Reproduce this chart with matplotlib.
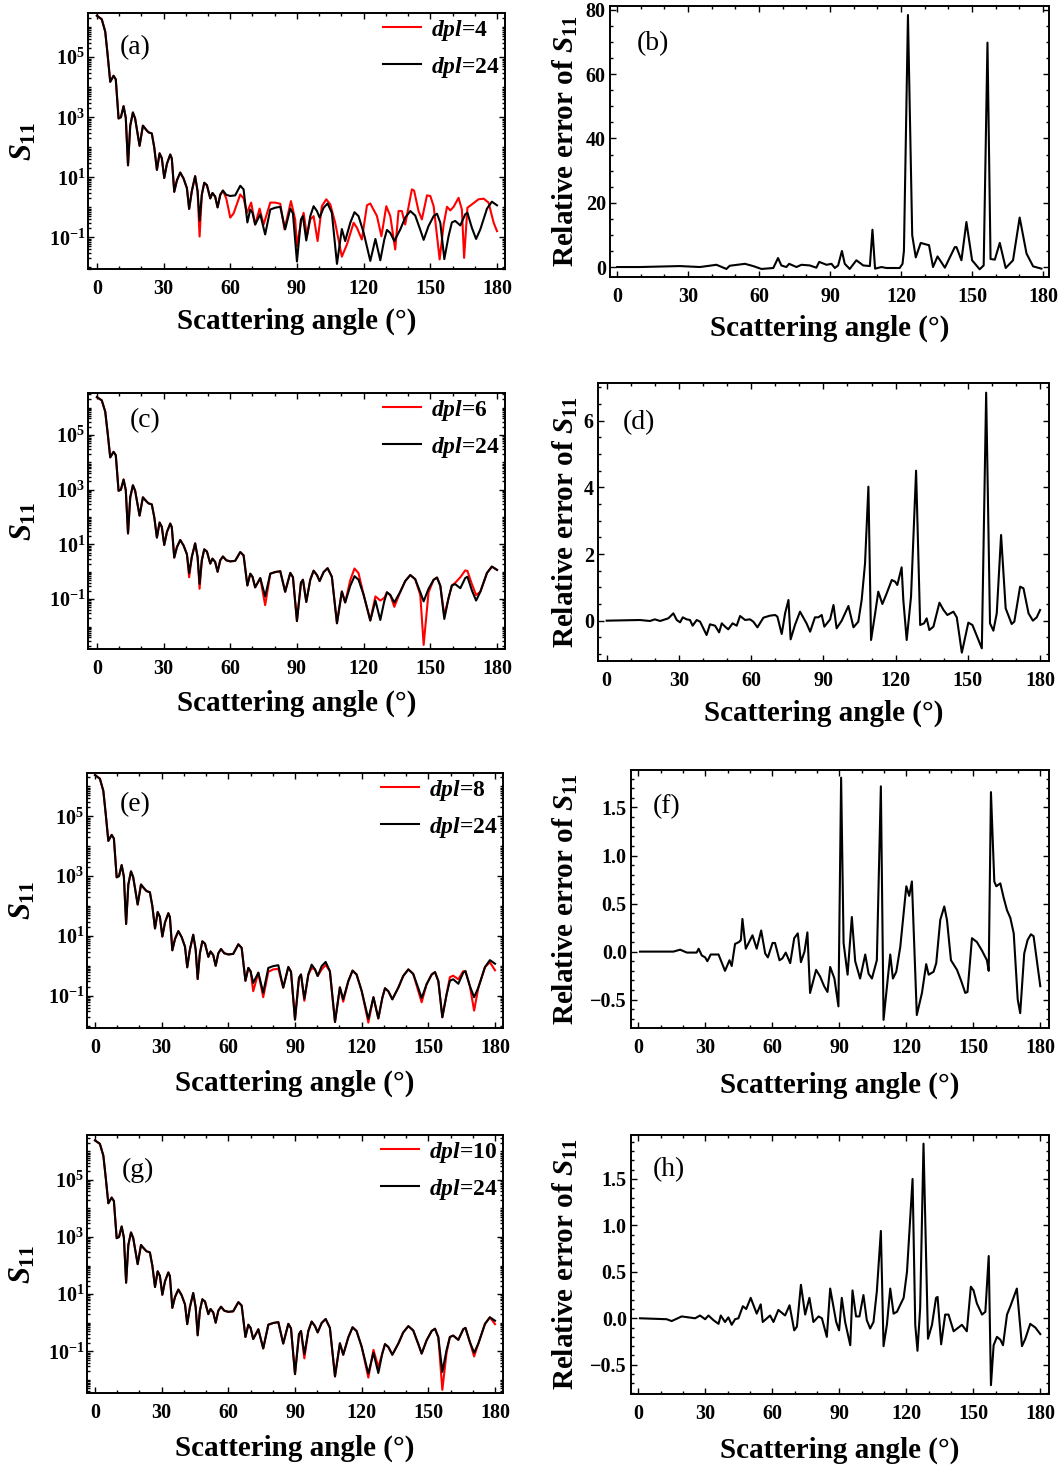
import numpy as np
import matplotlib
matplotlib.use("Agg")
import matplotlib.pyplot as plt
from matplotlib.ticker import MultipleLocator, LogLocator, NullFormatter

plt.rcParams['font.family'] = ['Liberation Serif', 'DejaVu Serif']
plt.rcParams['font.weight'] = 'bold'
plt.rcParams['axes.labelweight'] = 'bold'
plt.rcParams['mathtext.fontset'] = 'custom'
plt.rcParams['mathtext.rm'] = 'Liberation Serif:bold'
plt.rcParams['mathtext.it'] = 'Liberation Serif:italic:bold'
plt.rcParams['mathtext.bf'] = 'Liberation Serif:bold'

W, H = 1062, 1465

# S11 for dpl=24 (log10 values)
ANGLE_24 = [0.0, 2.2, 3.75, 4.8, 6.0, 7.5, 8.5, 9.75, 10.8, 12.0, 13.0, 14.0, 15.0, 16.2,
            17.2, 19.2, 20.7, 22.2, 23.2, 24.7, 25.8, 27.0, 28.2, 29.2, 30.3, 31.5, 33.0,
            33.7, 34.8, 36.0, 37.5, 39.0, 40.5, 41.5, 42.7, 44.2, 45.3, 46.2, 47.2, 48.3,
            49.5, 51.0, 52.0, 53.2, 54.3, 55.5, 56.7, 58.2, 60.0, 62.2, 64.5, 66.0, 67.7,
            69.0, 70.0, 71.2, 73.5, 75.7, 78.0, 80.2, 82.5, 84.7, 87.0, 88.2, 90.0, 91.8,
            92.7, 94.2, 96.0, 97.5, 99.0, 100.2, 102.0, 103.8, 105.7, 108.0, 110.2, 111.7,
            114.0, 115.9, 117.7, 120.0, 123.0, 125.3, 127.5, 129.3, 130.5, 132.0, 133.8,
            136.5, 138.7, 141.0, 143.2, 145.5, 147.0, 149.2, 151.5, 153.0, 154.5, 156.3,
            158.2, 159.7, 161.2, 163.5, 165.7, 166.7, 168.7, 170.6, 172.5, 175.5, 177.7, 180.0]
LOG_S11_24 = [6.38, 6.26, 5.85, 5.1, 4.18, 4.38, 4.26, 2.96, 3.0, 3.37, 2.98, 1.4, 2.72, 3.16,
              2.96, 2.05, 2.72, 2.58, 2.5, 2.46, 2.0, 1.25, 1.8, 1.64, 0.98, 1.45, 1.76,
              1.63, 0.52, 0.9, 1.16, 0.96, 0.64, -0.05, 0.54, 1.04, 0.54, -0.44, 0.42, 0.82,
              0.74, 0.3, 0.48, 0.36, 0.0, 0.42, 0.56, 0.42, 0.38, 0.4, 0.72, 0.6, -0.5,
              -0.07, -0.18, -0.57, -0.23, -0.9, -0.07, -0.01, 0.02, -0.73, -0.04, -0.2, -1.8, -0.4,
              -0.29, -1.1, -0.29, 0.04, -0.12, -0.34, -0.01, 0.13, -0.18, -1.88, -0.72, -1.12,
              -0.51, -0.16, -0.29, -0.84, -1.78, -1.05, -1.76, -1.07, -0.75, -0.85, -1.12,
              -0.73, -0.34, -0.12, -0.27, -0.75, -1.08, -0.62, -0.29, -0.21, -0.51, -1.72,
              -0.96, -0.5, -0.45, -0.6, -0.23, -0.18, -0.68, -1.05, -0.73, -0.04, 0.19, 0.07]

# dpl=6, 8, 10 sit on the same angles as dpl=24
LOG_S11_6 = [6.38, 6.26, 5.85, 5.1, 4.18, 4.38, 4.26, 2.96, 3.0, 3.37, 2.98, 1.4, 2.72, 3.16,
             2.96, 2.05, 2.72, 2.58, 2.5, 2.46, 2.0, 1.25, 1.8, 1.64, 0.98, 1.45, 1.76,
             1.63, 0.52, 0.9, 1.16, 0.96, 0.64, -0.2, 0.54, 1.04, 0.54, -0.62, 0.42, 0.82,
             0.74, 0.3, 0.48, 0.36, 0.0, 0.42, 0.56, 0.42, 0.38, 0.4, 0.72, 0.6, -0.5,
             -0.07, -0.18, -0.57, -0.23, -1.22, -0.07, -0.01, 0.02, -0.73, -0.04, -0.2, -1.8, -0.4,
             -0.29, -1.1, -0.29, 0.04, -0.12, -0.34, -0.01, 0.13, -0.18, -1.88, -0.72, -1.12,
             -0.3, 0.12, -0.05, -0.84, -1.78, -0.9, -1.05, -0.95, -0.75, -0.85, -1.28,
             -0.73, -0.34, -0.12, -0.27, -0.85, -2.67, -0.75, -0.29, -0.21, -0.51, -1.6,
             -0.96, -0.5, -0.4, -0.2, 0.05, 0.03, -0.45, -0.85, -0.73, -0.04, 0.19, 0.07]
LOG_S11_8 = [6.38, 6.26, 5.85, 5.1, 4.18, 4.38, 4.26, 2.96, 3.0, 3.37, 2.98, 1.4, 2.72, 3.16,
             2.96, 2.05, 2.72, 2.58, 2.5, 2.46, 2.0, 1.25, 1.8, 1.64, 0.98, 1.45, 1.76,
             1.63, 0.52, 0.9, 1.16, 0.96, 0.64, -0.05, 0.54, 1.04, 0.54, -0.44, 0.42, 0.82,
             0.74, 0.3, 0.48, 0.36, 0.0, 0.42, 0.56, 0.42, 0.38, 0.4, 0.72, 0.6, -0.5,
             -0.07, -0.18, -0.85, -0.23, -1.05, -0.2, -0.12, -0.1, -0.73, -0.04, -0.2, -1.8, -0.4,
             -0.29, -1.17, -0.29, -0.08, -0.12, -0.34, -0.12, 0.03, -0.18, -1.88, -0.72, -1.2,
             -0.51, -0.16, -0.29, -0.84, -1.9, -1.05, -1.76, -1.07, -0.75, -0.85, -1.12,
             -0.73, -0.34, -0.12, -0.27, -0.85, -1.22, -0.62, -0.29, -0.21, -0.51, -1.72,
             -0.96, -0.38, -0.33, -0.45, -0.18, -0.18, -0.68, -1.5, -0.73, -0.04, 0.12, -0.15]
LOG_S11_10 = [6.38, 6.26, 5.85, 5.1, 4.18, 4.38, 4.26, 2.96, 3.0, 3.37, 2.98, 1.4, 2.72, 3.16,
              2.96, 2.05, 2.72, 2.58, 2.5, 2.46, 2.0, 1.25, 1.8, 1.64, 0.98, 1.45, 1.76,
              1.63, 0.52, 0.9, 1.16, 0.96, 0.64, -0.05, 0.54, 1.04, 0.54, -0.44, 0.42, 0.82,
              0.74, 0.3, 0.48, 0.36, 0.0, 0.42, 0.56, 0.42, 0.38, 0.4, 0.72, 0.6, -0.5,
              -0.07, -0.18, -0.57, -0.23, -0.9, -0.07, -0.01, 0.02, -0.73, -0.04, -0.2, -1.8, -0.4,
              -0.29, -1.25, -0.29, 0.04, -0.12, -0.34, -0.01, 0.13, -0.18, -1.88, -0.72, -1.12,
              -0.51, -0.16, -0.29, -0.84, -1.92, -0.95, -1.55, -1.07, -0.75, -0.85, -1.12,
              -0.73, -0.34, -0.12, -0.27, -0.75, -1.08, -0.62, -0.29, -0.21, -0.51, -2.35,
              -1.05, -0.5, -0.45, -0.6, -0.23, -0.18, -0.68, -1.18, -0.73, -0.04, 0.19, -0.05]

# dpl=4 departs from dpl=24 past ~57 deg, so it has its own angles there
ANGLE_4 = ANGLE_24[:47] + [58.2, 60.0, 61.5, 64.5, 66.0, 67.5, 69.4, 71.2, 73.2, 75.0, 78.0,
                           80.2, 82.5, 84.4, 87.3, 89.2, 90.0, 91.8, 93.0, 94.5, 96.0, 97.5,
                           99.3, 101.2, 103.2, 105.0, 107.2, 110.2, 112.5, 115.5, 117.0, 119.2,
                           121.5, 123.0, 126.0, 128.0, 130.2, 132.0, 134.2, 135.7, 137.2, 138.7,
                           141.7, 142.7, 144.7, 146.2, 148.5, 150.0, 151.5, 154.2, 156.0, 157.5,
                           159.0, 160.5, 162.7, 164.2, 165.2, 166.7, 168.7, 171.7, 174.0, 176.2,
                           178.5, 180.0]
LOG_S11_4 = [6.38, 6.26, 5.85, 5.1, 4.18, 4.38, 4.26, 2.96, 3.0, 3.37, 2.98, 1.4, 2.72, 3.16,
             2.96, 2.05, 2.72, 2.58, 2.5, 2.46, 2.0, 1.25, 1.8, 1.64, 0.98, 1.45, 1.76,
             1.63, 0.52, 0.9, 1.16, 0.96, 0.64, -0.05, 0.54, 1.04, 0.54, -0.97, 0.42, 0.82,
             0.74, 0.3, 0.48, 0.36, 0.0, 0.42, 0.56,
             0.3, -0.34, -0.2, 0.43, 0.3, -0.18, 0.16, -0.57, -0.04, -0.57, 0.16,
             0.16, 0.12, -0.73, 0.21, -0.4, -1.29, -0.5, -0.18, -0.96, -0.4, -0.29,
             -1.12, 0.04, 0.27, 0.1, -0.51, -1.64, -1.23, -0.51, -0.68, -1.07,
             0.07, 0.13, -0.29, -0.96, 0.04, -0.29, -1.4, -0.12, -0.12, -0.57,
             0.6, 0.56, -0.12, -0.4, 0.4, 0.38, 0.04, -1.73, -0.57, 0.02,
             -0.1, 0.02, 0.32, -0.07, -1.68, -0.01, 0.1, 0.27, 0.29, 0.16,
             -0.51, -0.79]

# relative error of S11, one series per panel
ANGLE_ERR_4 = [0, 9.6, 26.5, 35, 42, 46.2, 47.6, 54, 57.5, 61, 66, 68, 69.4, 71.5, 72.7, 75.8,
               77.9, 81.4, 84.2, 85.4, 88.5, 90.6, 92, 93.4, 95, 96.2, 98.3, 101.1, 104, 106.8,
               107.9, 109.0, 111.7, 113.8, 119.4, 120.6, 121.2, 122.9, 124.7, 126.2, 128.3,
               130.7, 131.8, 133.5, 135.4, 138.5, 142.7, 143.4, 145.5, 147.6, 150, 153.2,
               154.9, 156.5, 157.8, 159.6, 161.7, 164.2, 167.3, 170.1, 173, 175.8, 179.3]
ERR_4 = [0, 0, 0.3, 0, 0.7, -0.6, 0.4, 1.0, 0.3, -0.6, -0.3, 2.8, 0.5, 0, 1.0, 0,
         0.7, 0.5, -0.2, 1.6, 0.7, 1.0, -0.3, 0.5, 5.0, 1.0, -0.6, 2.1, 0.5, 0.3,
         11.6, -0.5, 0, -0.3, -0.3, 1.0, 5.0, 78.4, 9.9, 3.0, 7.5,
         7.0, 6.8, 0, 3.3, -0.2, 6.2, 6.2, 2.1, 14.0, 2.1, -0.7,
         0.5, 69.8, 2.5, 2.3, 7.5, -0.3, 2.1, 15.4, 4.2, 0.2, -0.5]

ANGLE_ERR_6 = [0, 13.8, 18, 20, 22.2, 25.6, 27.7, 29.1, 30.5, 31.6, 33.2, 34.6, 35.7, 37.4, 38.8,
               41.5, 42.9, 45, 46.7, 47.8, 49.2, 50.5, 52.3, 54, 55.4, 57.5, 59.5, 60.9, 62.6,
               65.1, 67.8, 70, 70.9, 72.7, 74.1, 75.5, 76.4, 78.2, 80.3, 83, 84.5, 86.5, 87.9,
               89.3, 90.4, 92.8, 94.2, 95.5, 97.6, 100.4, 102.5, 104.5, 105.9, 107.3, 108.7,
               109.8, 111.5, 112.8, 114.5, 116.3, 118.4, 119.8, 120.7, 122.5, 123.2, 124.6,
               126.4, 128.5, 130.2, 131.8, 132.9, 134, 135.7, 138.2, 139.9, 141.5, 144, 145.4,
               147.5, 150.2, 151.9, 155.8, 157.6, 159.2, 160.6, 162, 163.8, 165.7, 168.2, 169.3,
               171.7, 173.1, 175.2, 177, 178.6, 180]
ERR_6 = [0, 0.02, -0.01, 0.04, -0.01, 0.07, 0.22, 0.02, -0.05, 0.1, 0.04, 0.02, -0.15, 0.02, -0.03,
         -0.43, -0.11, -0.15, -0.35, -0.08, -0.18, -0.26, -0.08, -0.15, 0.14, 0.02, 0.04, -0.03, -0.2,
         0.09, 0.15, 0.17, 0.12, -0.4, 0.22, 0.62, -0.56, -0.13, 0.27, -0.08, -0.33, 0.1, 0.1,
         0.17, -0.18, 0.04, 0.47, -0.23, 0.0, 0.44, -0.2, -0.03, 0.62, 1.72, 4.02,
         -0.58, 0.22, 0.87, 0.5, 0.82, 1.22, 1.17, 1.07, 1.6, 0.62, -0.58,
         0.72, 4.5, -0.13, -0.08, 0.07, -0.28, -0.18, 0.54, 0.32, 0.17, 0.27, 0.1,
         -0.96, -0.06, -0.13, -0.83, 6.84, -0.08, -0.3, 0.22, 2.57, 0.37, -0.1, -0.03,
         1.02, 0.97, 0.22, 0.0, 0.1, 0.32]

ANGLE_ERR_8 = [0.7, 15.7, 18.7, 21.7, 26.1, 27, 28.4, 29.9, 30.9, 32.4, 34.4, 35.9, 38.8, 40.8,
               41.8, 43.3, 45.1, 45.9, 46.6, 48.1, 51.1, 53, 55, 56.8, 58, 60.1, 61.2, 63.2,
               64.5, 66, 68, 69.8, 71.4, 72.8, 74.4, 75.7, 76.9, 79.6, 81.4, 83.2, 84.7, 85.9,
               87.8, 89.6, 90.8, 91.9, 93.7, 95.6, 97.1, 99.3, 101.6, 103.1, 104.6, 106.8,
               108.6, 109.8, 112.8, 114, 115.5, 117.3, 120, 121.3, 122.5, 124.7, 127, 128.9,
               130, 132.2, 133.4, 135.2, 137, 138.2, 140, 142.7, 144.5, 146.4, 147.4, 149.4,
               151.6, 153.9, 156.1, 156.9, 157.9, 159.4, 160.3, 162.1, 163.6, 165.1, 166.6,
               168.1, 169.9, 171, 172.8, 174.3, 175.8, 177, 180]
ERR_8 = [0, 0, 0.02, -0.01, -0.01, 0.03, -0.04, -0.06, -0.1, -0.03, -0.03, -0.03, -0.2, -0.09,
         -0.15, 0.08, 0.1, 0.12, 0.34, 0.03, 0.17, 0.03, 0.22, -0.02, -0.06, 0.09, 0.09, -0.09,
         -0.07, -0.01, -0.12, 0.14, 0.19, -0.11, 0.0, 0.2, -0.43, -0.19, -0.26, -0.36, -0.42, -0.16,
         -0.28, -0.57, 1.81, 0.09, -0.24, 0.36, -0.1, -0.28, -0.03, -0.23, -0.28, -0.09,
         1.72, -0.71, -0.03, -0.28, -0.21, 0.05, 0.68, 0.58, 0.73, -0.66, -0.43, -0.13,
         -0.24, -0.21, -0.12, 0.33, 0.47, 0.33, -0.09, -0.19, -0.3, -0.43, -0.42, 0.14,
         0.1, 0.01, -0.09, -0.2, 1.66, 0.73, 0.68, 0.71, 0.56, 0.43, 0.35,
         0.19, -0.5, -0.64, -0.02, 0.12, 0.18, 0.16, -0.36]

ANGLE_ERR_10 = [0.7, 12.7, 14.9, 19.4, 25.4, 27.6, 29.9, 31.4, 33.6, 35.9, 36.9, 38.8, 40.3, 41.8,
                43.3, 44.8, 46.8, 48.3, 50.3, 53, 54.8, 55.7, 59, 60.5, 62.7, 65.7, 67.7, 69.8,
                71, 72.8, 74.7, 76.6, 78.4, 80.7, 82.2, 84.4, 85.9, 88.6, 89.9, 91.1, 92.6, 94.9,
                95.9, 97.5, 99, 100.8, 102.3, 103.8, 105.3, 106.8, 108.6, 109.8, 111.3, 112.8,
                114.3, 115.8, 118.8, 120.3, 122.8, 124, 125, 126.2, 127.7, 129.7, 131.5, 133.3,
                134, 135.6, 137.4, 138.9, 141.2, 144.9, 147.1, 148.9, 150.1, 151.6, 153.9, 155.4,
                156.9, 157.9, 159.1, 160.6, 162.1, 163.3, 165.1, 166.6, 169.5, 171.8, 173.3,
                175.5, 177.8, 180]
ERR_10 = [0, -0.01, -0.03, 0.02, 0.0, 0.03, -0.01, 0.03, -0.02, -0.06, 0.03, -0.04, 0.01, -0.07,
          -0.01, 0.0, 0.13, 0.1, 0.22, 0.05, 0.15, -0.04, 0.03, -0.04, 0.09, 0.03, 0.14, -0.13,
          -0.09, 0.36, 0.04, 0.22, -0.04, 0.02, 0.0, -0.2, 0.32, -0.04, -0.13, 0.22, -0.04, -0.29,
          0.3, 0.02, 0.02, 0.25, -0.02, -0.11, -0.04, 0.29, 0.94, -0.3, -0.07, 0.32,
          0.05, 0.07, 0.22, 0.5, 1.5, -0.07, -0.35, 0.11, 1.88, -0.22, -0.07, 0.22,
          0.23, -0.28, 0.04, 0.04, -0.14, -0.07, -0.14, 0.34, 0.3, 0.16, 0.04, 0.07,
          0.67, -0.72, -0.29, -0.2, -0.23, -0.29, 0.04, 0.13, 0.32, -0.3, -0.22,
          -0.06, -0.1, -0.17]


def add_axes_px(fig, left, top, right, bottom):
    return fig.add_axes([left / W, 1 - bottom / H, (right - left) / W, (bottom - top) / H])


def frame_style(ax, xlim):
    for sp in ax.spines.values():
        sp.set_linewidth(1.4)
    ax.set_xlim(*xlim)
    ax.xaxis.set_major_locator(MultipleLocator(30))
    ax.xaxis.set_minor_locator(MultipleLocator(10))
    ax.tick_params(which='both', direction='in', top=True, right=True, labelsize=14.5, width=1.0)
    ax.tick_params(which='major', length=4.5)
    ax.tick_params(which='minor', length=2.5)
    ax.tick_params(axis='x', pad=7)
    ax.set_xlabel('Scattering angle (°)', fontsize=21)


def s11_panel(ax, x_red, y_red, dpl, ylog, tag, tag_xy, xlim, xlab_y):
    ax.plot(x_red, 10 ** np.array(y_red), color='#ff0000', lw=1.5, label=r'$dpl$=' + dpl)
    ax.plot(ANGLE_24, 10 ** np.array(LOG_S11_24), color='black', lw=1.5, label=r'$dpl$=24')
    ax.set_yscale('log')
    ax.set_ylim(10 ** ylog[0], 10 ** ylog[1])
    frame_style(ax, xlim)
    ax.set_yticks([1e-1, 1e1, 1e3, 1e5],
                  labels=[r'$\mathrm{10^{-1}}$', r'$\mathrm{10^{1}}$', r'$\mathrm{10^{3}}$', r'$\mathrm{10^{5}}$'])
    ax.yaxis.set_minor_locator(LogLocator(base=10, subs=np.arange(1, 10) * 1.0, numticks=60))
    ax.yaxis.set_minor_formatter(NullFormatter())
    ax.tick_params(axis='y', pad=2)
    ax.set_ylabel(r'$S_{\mathrm{11}}$', fontsize=22)
    ax.yaxis.set_label_coords(-0.118, 0.5)
    ax.xaxis.set_label_coords(0.5, xlab_y)
    ax.text(tag_xy[0], tag_xy[1], tag, transform=ax.transAxes, fontsize=20,
            fontweight='normal', ha='left', va='center')
    ax.legend(loc='upper right', bbox_to_anchor=(1.0, 1.0), frameon=False,
              handlelength=1.6, handletextpad=0.45, labelspacing=0.5, borderaxespad=0.05,
              borderpad=0.15, prop={'family': 'Liberation Serif', 'weight': 'bold', 'size': 17})


def err_panel(ax, x, y, ylim, ymajor, yminor, fmt, tag, tag_xy, xlim, ylab_x, xlab_y):
    ax.plot(x, y, color='black', lw=1.5)
    ax.set_ylim(*ylim)
    frame_style(ax, xlim)
    ax.yaxis.set_major_locator(MultipleLocator(ymajor))
    ax.yaxis.set_minor_locator(MultipleLocator(yminor))
    ax.yaxis.set_major_formatter(fmt)
    ax.tick_params(axis='y', pad=3)
    ax.set_ylabel(r'Relative error of $S_{\mathrm{11}}$', fontsize=21)
    ax.yaxis.set_label_coords(ylab_x, 0.5)
    ax.xaxis.set_label_coords(0.5, xlab_y)
    ax.text(tag_xy[0], tag_xy[1], tag, transform=ax.transAxes, fontsize=20,
            fontweight='normal', ha='left', va='center')


def main():
    fig = plt.figure(figsize=(W / 100, H / 100), dpi=100)

    ax_a = add_axes_px(fig, 88, 13, 505, 269)
    s11_panel(ax_a, ANGLE_4, LOG_S11_4, '4', (-2.05, 6.47), '(a)', (0.077, 0.863),
              (-4, 183.6), -0.15)
    ax_c = add_axes_px(fig, 88, 393, 505, 649)
    s11_panel(ax_c, ANGLE_24, LOG_S11_6, '6', (-2.82, 6.53), '(c)', (0.10, 0.894),
              (-4, 183.6), -0.16)
    ax_e = add_axes_px(fig, 87, 773, 503, 1028)
    s11_panel(ax_e, ANGLE_24, LOG_S11_8, '8', (-2.08, 6.45), '(e)', (0.079, 0.875),
              (-3.6, 183.6), -0.165)
    ax_g = add_axes_px(fig, 87, 1135, 503, 1393)
    s11_panel(ax_g, ANGLE_24, LOG_S11_10, '10', (-2.46, 6.57), '(g)', (0.084, 0.864),
              (-3.6, 183.6), -0.163)

    ax_b = add_axes_px(fig, 610, 6, 1049, 277)
    err_panel(ax_b, ANGLE_ERR_4, ERR_4, (-3.1, 81.2), 20, 5, '{x:.0f}', '(b)', (0.062, 0.863),
              (-3, 182.5), -0.068, -0.14)
    ax_d = add_axes_px(fig, 598, 383, 1049, 661)
    err_panel(ax_d, ANGLE_ERR_6, ERR_6, (-1.21, 7.13), 2, 0.5, '{x:.0f}', '(d)', (0.055, 0.856),
              (-3.6, 183.7), -0.039, -0.14)
    ax_f = add_axes_px(fig, 631, 770, 1049, 1028)
    err_panel(ax_f, ANGLE_ERR_8, ERR_8, (-0.795, 1.89), 0.5, 0.1, '{x:.1f}', '(f)', (0.053, 0.857),
              (-3.3, 183.9), -0.122, -0.17)
    ax_h = add_axes_px(fig, 631, 1135, 1049, 1394)
    err_panel(ax_h, ANGLE_ERR_10, ERR_10, (-0.815, 1.973), 0.5, 0.1, '{x:.1f}', '(h)', (0.053, 0.865),
              (-3.3, 183.9), -0.122, -0.166)

    fig.savefig('out.png', dpi=100)


if __name__ == "__main__":
    main()
